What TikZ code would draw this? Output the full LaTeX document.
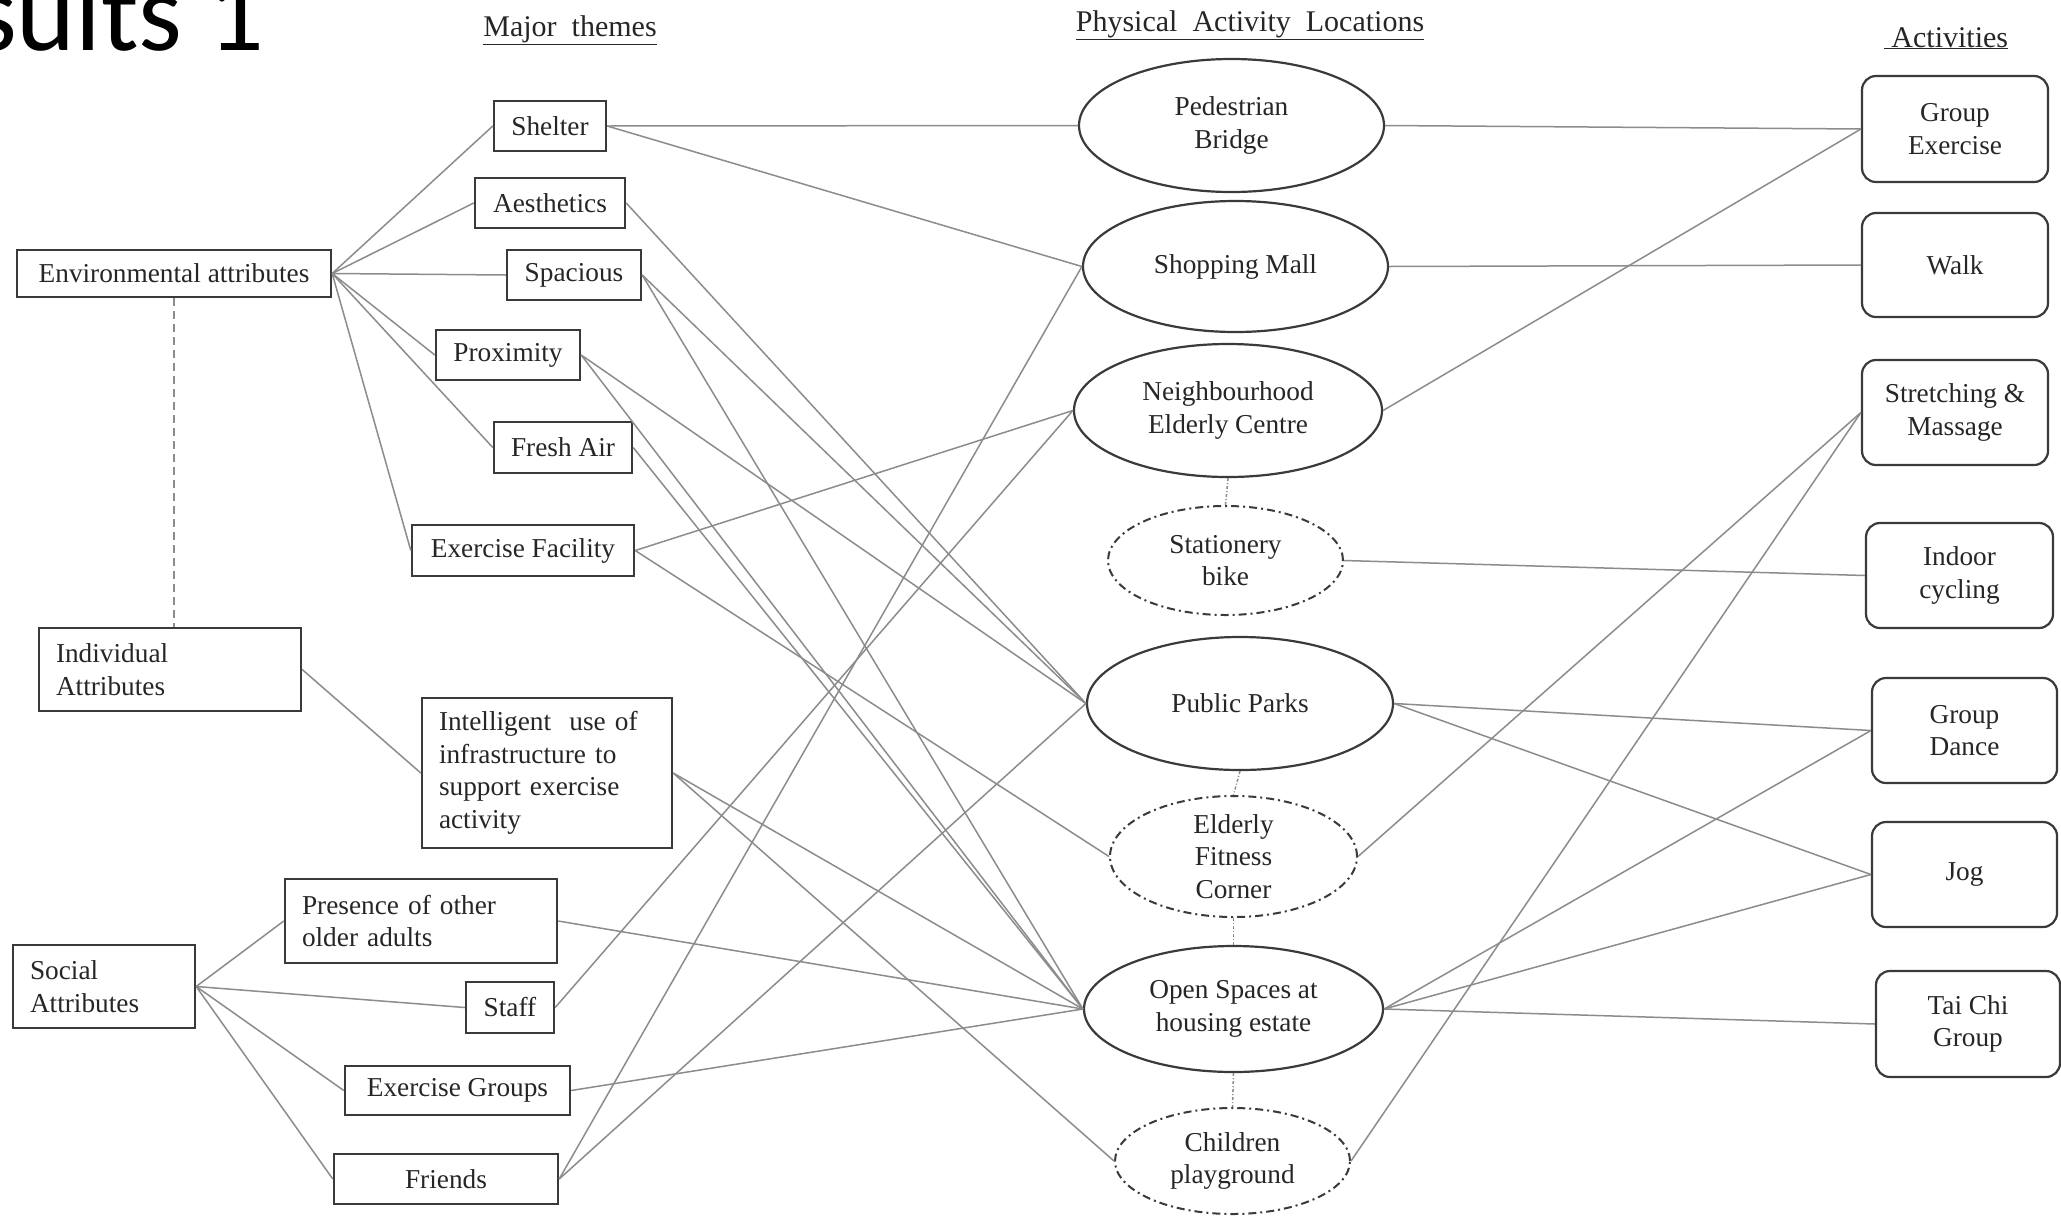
\documentclass[tikz,border=0pt]{standalone}
\usepackage{fontspec}
\setmainfont{Liberation Serif}
\newfontfamily\ttlfam{Carlito}
\usetikzlibrary{shapes.geometric}
\definecolor{boxc}{HTML}{3A3A3A}
\definecolor{linec}{HTML}{8C8C8C}
\definecolor{txtc}{HTML}{262626}
\newcommand\bfnt{\fontsize{27.3}{32.5}\selectfont}
\newcommand\hfnt{\fontsize{30}{36}\selectfont}
\newcommand\tfnt{\ttlfam\fontsize{112}{124}\selectfont}
\tikzset{
  box/.style={draw=boxc, line width=2.4pt, inner sep=0pt, font=\bfnt, text=txtc, align=center},
  lbox/.style={draw=boxc, line width=2.4pt, inner ysep=0pt, inner xsep=17pt, font=\bfnt, text=txtc, align=left},
  loc/.style={ellipse, draw=boxc, line width=2.2pt, inner sep=0pt},
  dloc/.style={ellipse, draw=boxc, line width=2pt, dash pattern=on 8pt off 4pt on 2pt off 4pt, inner sep=0pt},
  ltxt/.style={font=\bfnt, text=txtc, align=center, inner sep=0pt},
  act/.style={draw=boxc, line width=2.2pt, rounded corners=14pt, inner sep=0pt, font=\bfnt, text=txtc, align=center},
  link/.style={draw=linec, line width=1.5pt},
  dlink/.style={draw=linec, line width=1.5pt, dash pattern=on 8pt off 5pt},
  olink/.style={draw=linec, line width=1.5pt, dash pattern=on 3pt off 2pt on 1pt off 2pt},
  head/.style={font=\hfnt, text=txtc, anchor=base, inner sep=0pt},
}
\begin{document}
\begin{tikzpicture}[x=1pt, y=-1pt]
\useasboundingbox (0,0) rectangle (2061,1216);
\fill[white] (0,0) rectangle (2061,1216);

% title (cropped)
\node[font=\tfnt, anchor=base east, inner sep=0pt] (ttl) at (265,50) {Results 1};

% headers
\node[head] (h1) at (570,36) {\underline{Major~ themes}};
\node[head] (h2) at (1250,31) {\underline{Physical~ Activity~ Locations}};
\node[head] (h3) at (1946,47) {\underline{\ Activities}};

% left column
\node[box, minimum width=314pt, minimum height=47pt] (env) at (174,273.5) {Environmental attributes};
\node[lbox, text width=228pt, minimum height=83pt] (ind) at (170,669.5) {Individual\\Attributes};
\node[lbox, text width=148pt, minimum height=83pt] (soc) at (104,986.5) {Social\\Attributes};

% themes
\node[box, minimum width=112pt, minimum height=50pt] (shel) at (550,126) {Shelter};
\node[box, minimum width=150pt, minimum height=50pt] (aes) at (550,203) {Aesthetics};
\node[box, minimum width=134pt, minimum height=50pt] (spa) at (574,275) {Spacious};
\node[box, minimum width=144pt, minimum height=50pt] (pro) at (508,355) {Proximity};
\node[box, minimum width=138pt, minimum height=51pt] (fre) at (563,447.5) {Fresh Air};
\node[box, minimum width=222pt, minimum height=51pt] (exf) at (523,550.5) {Exercise Facility};
\node[lbox, text width=216pt, minimum height=150pt] (int) at (547,773) {Intelligent~ use of\\infrastructure to\\support exercise\\activity};
\node[lbox, text width=238pt, minimum height=84pt] (pre) at (421,921) {Presence of other\\older adults};
\node[box, minimum width=88pt, minimum height=51pt] (sta) at (510,1007.5) {Staff};
\node[box, minimum width=225pt, minimum height=49pt] (exg) at (457.5,1090.5) {Exercise Groups};
\node[box, minimum width=224pt, minimum height=50pt] (fri) at (446,1179) {Friends};

% locations
\node[loc, minimum width=305pt, minimum height=133pt] (pb) at (1231.5,125.5) {};
\node[ltxt] (pbT) at (pb) {Pedestrian\\Bridge};
\node[loc, minimum width=305pt, minimum height=131pt] (sm) at (1235.5,266.5) {};
\node[ltxt] (smT) at (sm) {Shopping Mall};
\node[loc, minimum width=308pt, minimum height=133pt] (nec) at (1228,410.5) {};
\node[ltxt] (necT) at (nec) {Neighbourhood\\Elderly Centre};
\node[dloc, minimum width=235pt, minimum height=109pt] (sb) at (1225.5,560.5) {};
\node[ltxt] (sbT) at (sb) {Stationery\\bike};
\node[loc, minimum width=306pt, minimum height=133pt] (pp) at (1240,703.5) {};
\node[ltxt] (ppT) at (pp) {Public Parks};
\node[dloc, minimum width=247pt, minimum height=121pt] (efc) at (1233.5,856.5) {};
\node[ltxt] (efcT) at (efc) {Elderly\\Fitness\\Corner};
\node[loc, minimum width=299pt, minimum height=126pt] (os) at (1233.5,1009) {};
\node[ltxt] (osT) at (os) {Open Spaces at\\housing estate};
\node[dloc, minimum width=235pt, minimum height=106pt] (cp) at (1232.5,1161) {};
\node[ltxt] (cpT) at (cp) {Children\\playground};

% activities
\node[act, minimum width=186pt, minimum height=106pt] (ge) at (1955,129) {Group\\Exercise};
\node[act, minimum width=186pt, minimum height=104pt] (walk) at (1955,265) {Walk};
\node[act, minimum width=186pt, minimum height=105pt] (stm) at (1955,412.5) {Stretching \&\\Massage};
\node[act, minimum width=187pt, minimum height=105pt] (ic) at (1959.5,575.5) {Indoor\\cycling};
\node[act, minimum width=185pt, minimum height=105pt] (gd) at (1964.5,730.5) {Group\\Dance};
\node[act, minimum width=185pt, minimum height=105pt] (jog) at (1964.5,874.5) {Jog};
\node[act, minimum width=184pt, minimum height=106pt] (tc) at (1968,1024) {Tai Chi\\Group};

% left links
\foreach \t in {shel,aes,spa,pro,fre,exf}
  \draw[link] (env.east) -- (\t.west);
\draw[dlink] (env.south) -- (env.south |- ind.north);
\draw[link] (ind.east) -- (int.west);
\foreach \t in {pre,sta,exg,fri}
  \draw[link] (soc.east) -- (\t.west);

% theme -> location
\draw[link] (shel.east) -- (pb.west);
\draw[link] (shel.east) -- (sm.west);
\draw[link] (aes.east) -- (pp.west);
\draw[link] (spa.east) -- (pp.west);
\draw[link] (spa.east) -- (os.west);
\draw[link] (pro.east) -- (pp.west);
\draw[link] (pro.east) -- (os.west);
\draw[link] (fre.east) -- (os.west);
\draw[link] (exf.east) -- (nec.west);
\draw[link] (exf.east) -- (efc.west);
\draw[link] (int.east) -- (os.west);
\draw[link] (int.east) -- (cp.west);
\draw[link] (pre.east) -- (os.west);
\draw[link] (sta.east) -- (nec.west);
\draw[link] (exg.east) -- (os.west);
\draw[link] (fri.east) -- (sm.west);
\draw[link] (fri.east) -- (pp.west);

% location chain
\draw[olink] (nec.south) -- (sb.north);
\draw[olink] (pp.south) -- (efc.north);
\draw[olink] (efc.south) -- (os.north);
\draw[olink] (os.south) -- (cp.north);

% location -> activity
\draw[link] (pb.east) -- (ge.west);
\draw[link] (sm.east) -- (walk.west);
\draw[link] (nec.east) -- (ge.west);
\draw[link] (sb.east) -- (ic.west);
\draw[link] (pp.east) -- (gd.west);
\draw[link] (pp.east) -- (jog.west);
\draw[link] (efc.east) -- (stm.west);
\draw[link] (os.east) -- (gd.west);
\draw[link] (os.east) -- (jog.west);
\draw[link] (os.east) -- (tc.west);
\draw[link] (cp.east) -- (stm.west);
\end{tikzpicture}
\end{document}
